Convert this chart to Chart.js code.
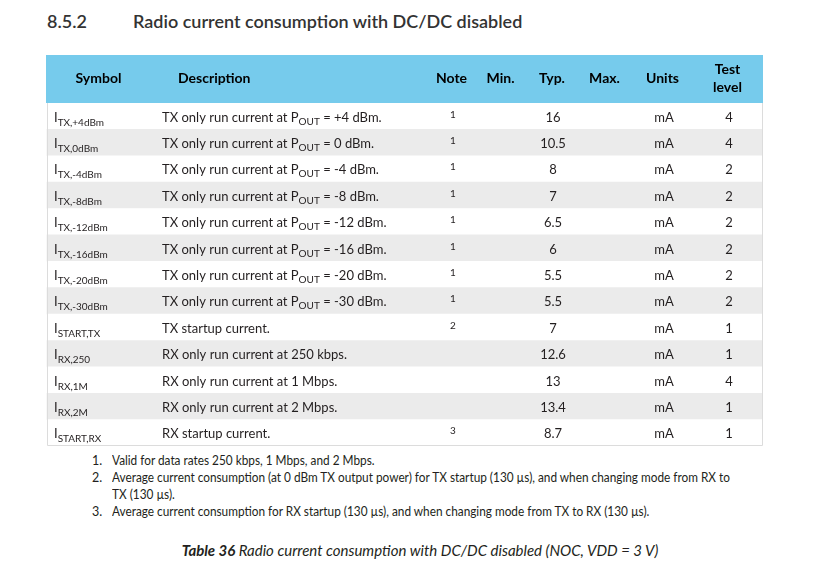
<!DOCTYPE html>
<html>
<head>
<meta charset="utf-8">
<script src="https://cdn.jsdelivr.net/npm/chart.js@4/dist/chart.umd.min.js"></script>
<style>
  html, body { margin: 0; padding: 0; background: #fff; }
  body { width: 824px; height: 583px; position: relative; overflow: hidden; font-family: Lato, "Open Sans", sans-serif; color: #231f20; }
  .abs { position: absolute; white-space: nowrap; }
  #title1, #title2 { top: 10px; font-size: 18px; font-weight: 600; color: #333; }
  #title1 { left: 47px; }
  #title2 { left: 133px; }
  #wrap { position: absolute; left: 0; top: 55px; width: 824px; height: 392px; }
  .fn { font-size: 12.5px; transform-origin: 0 50%; }
  #caption { top: 541px; left: 8px; width: 824px; text-align: center; font-style: italic; font-size: 15px; }
</style>
</head>
<body>
<div id="title1" class="abs">8.5.2</div>
<div id="title2" class="abs">Radio current consumption with DC/DC disabled</div>
<div id="wrap"><canvas id="c"></canvas></div>
<div id="notes"></div>
<div id="caption" class="abs"><b>Table 36</b> Radio current consumption with DC/DC disabled (NOC, VDD = 3 V)</div>
<script>
// ---------- data ----------
const headers = ["Symbol", "Description", "Note", "Min.", "Typ.", "Max.", "Units", "Test\nlevel"];
const symbolSubs = ["TX,+4dBm", "TX,0dBm", "TX,-4dBm", "TX,-8dBm", "TX,-12dBm", "TX,-16dBm", "TX,-20dBm", "TX,-30dBm", "START,TX", "RX,250", "RX,1M", "RX,2M", "START,RX"];
const descriptions = [
  "TX only run current at P_{OUT} = +4 dBm.",
  "TX only run current at P_{OUT} = 0 dBm.",
  "TX only run current at P_{OUT} = -4 dBm.",
  "TX only run current at P_{OUT} = -8 dBm.",
  "TX only run current at P_{OUT} = -12 dBm.",
  "TX only run current at P_{OUT} = -16 dBm.",
  "TX only run current at P_{OUT} = -20 dBm.",
  "TX only run current at P_{OUT} = -30 dBm.",
  "TX startup current.",
  "RX only run current at 250 kbps.",
  "RX only run current at 1 Mbps.",
  "RX only run current at 2 Mbps.",
  "RX startup current."
];
const notes = ["1", "1", "1", "1", "1", "1", "1", "1", "2", "", "", "", "3"];
const minVals = ["", "", "", "", "", "", "", "", "", "", "", "", ""];
const typVals = [16, 10.5, 8, 7, 6.5, 6, 5.5, 5.5, 7, 12.6, 13, 13.4, 8.7];
const maxVals = ["", "", "", "", "", "", "", "", "", "", "", "", ""];
const units = ["mA", "mA", "mA", "mA", "mA", "mA", "mA", "mA", "mA", "mA", "mA", "mA", "mA"];
const testLevels = [4, 4, 2, 2, 2, 2, 2, 2, 1, 1, 4, 1, 1];
const footnotes = [
  "Valid for data rates 250 kbps, 1 Mbps, and 2 Mbps.",
  "Average current consumption (at 0 dBm TX output power) for TX startup (130 µs), and when changing mode from RX to\nTX (130 µs).",
  "Average current consumption for RX startup (130 µs), and when changing mode from TX to RX (130 µs)."
];

// ---------- layout / style ----------
const FONT = 'Lato, "Open Sans", sans-serif';
const TABLE_L = 47, TABLE_R = 762;
const HEADER_BLUE = '#76cbec';
const STRIPE = '#ebebeb';
const TEXT = '#231f20';
const COLS = [
  { hx: 98.5, halign: 'center', x: 54, align: 'left' },     // Symbol
  { hx: 178, halign: 'left', x: 162, align: 'left' },       // Description
  { hx: 451.5, halign: 'center', x: 453, align: 'center' }, // Note
  { hx: 500.5, halign: 'center', x: 500, align: 'center' }, // Min
  { hx: 552, halign: 'center', x: 553, align: 'center' },   // Typ
  { hx: 604.5, halign: 'center', x: 604, align: 'center' }, // Max
  { hx: 662.5, halign: 'center', x: 664, align: 'center' }, // Units
  { hx: 727.5, halign: 'center', x: 729, align: 'center' }  // Test level
];

function parseRich(s) {
  const parts = [];
  const re = /_\{([^}]*)\}/g;
  let last = 0, m;
  while ((m = re.exec(s))) {
    if (m.index > last) parts.push({ t: s.slice(last, m.index), sub: false });
    parts.push({ t: m[1], sub: true });
    last = re.lastIndex;
  }
  if (last < s.length) parts.push({ t: s.slice(last), sub: false });
  return parts;
}
function drawRich(ctx, x, y, parts, size, subSize, subDy) {
  let cx = x;
  ctx.textAlign = 'left';
  for (const p of parts) {
    ctx.font = (p.sub ? subSize : size) + 'px ' + FONT;
    ctx.fillText(p.t, cx, y + (p.sub ? subDy : 0));
    cx += ctx.measureText(p.t).width;
  }
}

const tablePlugin = {
  id: 'tableText',
  beforeDatasetsDraw(chart) {
    const { ctx, chartArea, scales: { x } } = chart;
    ctx.save();
    ctx.fillStyle = HEADER_BLUE;
    const l = x.getPixelForValue(TABLE_L) - 1, r = x.getPixelForValue(TABLE_R) + 1;
    ctx.fillRect(l, 0, r - l, chartArea.top);
    ctx.restore();
  },
  afterDatasetsDraw(chart) {
    const { ctx, chartArea, scales: { x, y } } = chart;
    ctx.save();
    // header text
    ctx.fillStyle = '#000';
    ctx.font = 'bold 14px ' + FONT;
    ctx.textBaseline = 'middle';
    headers.forEach((h, i) => {
      const c = COLS[i];
      ctx.textAlign = c.halign;
      const lines = h.split('\n');
      const cy = chartArea.top / 2 - 1;
      lines.forEach((ln, k) => {
        const yy = cy + (k - (lines.length - 1) / 2) * 18;
        ctx.fillText(ln, x.getPixelForValue(c.hx), yy);
      });
    });
    // body text
    ctx.fillStyle = TEXT;
    ctx.textBaseline = 'alphabetic';
    symbolSubs.forEach((s, i) => {
      const cy = y.getPixelForValue(i);
      const base = cy + 5.5;
      drawRich(ctx, x.getPixelForValue(COLS[0].x), base, [{ t: 'I', sub: false }, { t: s, sub: true }], 13, 10, 4);
      drawRich(ctx, x.getPixelForValue(COLS[1].x), base, parseRich(descriptions[i]), 13, 10, 3);
      ctx.textAlign = 'center';
      ctx.font = '10px ' + FONT;
      ctx.fillText(notes[i], x.getPixelForValue(COLS[2].x), base - 4);
      ctx.font = '13px ' + FONT;
      ctx.fillText(String(minVals[i]), x.getPixelForValue(COLS[3].x), base);
      ctx.fillText(String(typVals[i]), x.getPixelForValue(COLS[4].x), base);
      ctx.fillText(String(maxVals[i]), x.getPixelForValue(COLS[5].x), base);
      ctx.fillText(units[i], x.getPixelForValue(COLS[6].x), base);
      ctx.fillText(String(testLevels[i]), x.getPixelForValue(COLS[7].x), base);
    });
    // borders
    ctx.strokeStyle = '#dcdcdc';
    ctx.lineWidth = 1;
    const l = Math.round(x.getPixelForValue(TABLE_L)) + 0.5;
    const r = Math.round(x.getPixelForValue(TABLE_R)) + 0.5;
    const b = Math.round(chartArea.bottom) - 0.5;
    ctx.beginPath();
    ctx.moveTo(l, chartArea.top); ctx.lineTo(l, b); ctx.lineTo(r, b); ctx.lineTo(r, chartArea.top);
    ctx.stroke();
    ctx.restore();
  }
};

new Chart(document.getElementById('c'), {
  type: 'bar',
  data: {
    labels: symbolSubs,
    datasets: [{
      data: symbolSubs.map(() => [TABLE_L, TABLE_R]),
      backgroundColor: symbolSubs.map((_, i) => i % 2 ? STRIPE : '#ffffff'),
      borderWidth: 0,
      barPercentage: 1,
      categoryPercentage: 1
    }]
  },
  options: {
    indexAxis: 'y',
    responsive: true,
    maintainAspectRatio: false,
    animation: false,
    layout: { padding: { top: 48, bottom: 1, left: 0, right: 0 } },
    plugins: { legend: { display: false }, tooltip: { enabled: false } },
    scales: {
      x: { type: 'linear', min: 0, max: 824, display: false },
      y: { type: 'category', display: false, offset: true, grid: { display: false } }
    }
  },
  plugins: [tablePlugin]
});

// footnotes
const notesDiv = document.getElementById('notes');
let fy = 453;
footnotes.forEach((f, i) => {
  const lines = f.split('\n');
  const num = document.createElement('div');
  num.className = 'abs fn';
  num.style.left = '92px'; num.style.top = fy + 'px';
  num.textContent = (i + 1) + '.';
  notesDiv.appendChild(num);
  lines.forEach((ln) => {
    const d = document.createElement('div');
    d.className = 'abs fn';
    d.style.left = '112px'; d.style.top = fy + 'px';
    d.style.transform = 'scaleX(0.945)';
    d.textContent = ln;
    notesDiv.appendChild(d);
    fy += 17;
  });
});
</script>
</body>
</html>
